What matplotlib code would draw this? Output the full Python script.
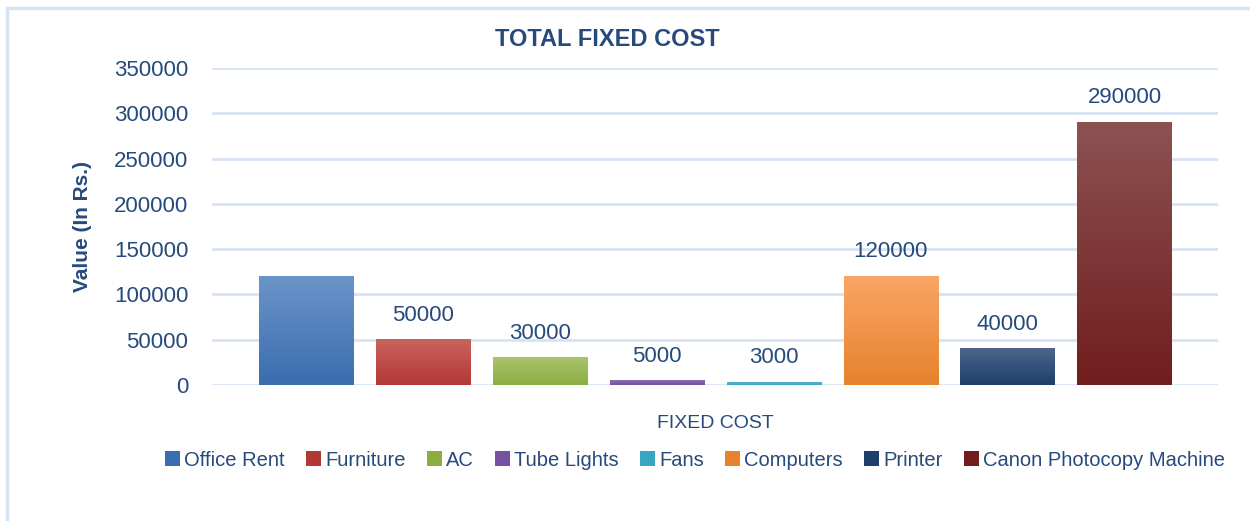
"""Total fixed cost bar chart."""
import matplotlib
matplotlib.use('Agg')
import matplotlib.pyplot as plt
from matplotlib.colors import LinearSegmentedColormap
from matplotlib.patches import Rectangle
import numpy as np

items = ['Office Rent', 'Furniture', 'AC', 'Tube Lights', 'Fans',
         'Computers', 'Printer', 'Canon Photocopy Machine']
values = [120000, 50000, 30000, 5000, 3000, 120000, 40000, 290000]
show_label = [False, True, True, True, True, True, True, True]
# (top, bottom) gradient colours
top_colors = ['#6b94c9', '#c9635f', '#a9c46c', '#8a6cab', '#56b5cc',
              '#f9a567', '#4e6588', '#8c5252']
bottom_colors = ['#3a6daf', '#b23835', '#8bae43', '#7452a0', '#38a6c0',
                 '#e6832c', '#1e3e6b', '#711d1d']

TEXT = '#264a7c'
GRID = '#d6e3f3'
plt.rcParams['font.family'] = ['Liberation Sans', 'DejaVu Sans']

fig = plt.figure(figsize=(12.5, 5.21), dpi=100)
ax = fig.add_axes([212 / 1250, 1 - 385 / 521, (1218 - 212) / 1250, (385 - 68) / 521])

# chart frame
fig.patches.append(Rectangle((7 / 1250, -0.1), 1.2, 1 - 8 / 521 + 0.1,
                             transform=fig.transFigure, fill=False,
                             edgecolor=GRID, linewidth=2.5, zorder=0))

x = np.arange(len(items))
width = 0.81
bars = ax.bar(x, values, width=width, color=bottom_colors, zorder=2)

grad = np.linspace(0, 1, 256).reshape(-1, 1)
for bar, c_top, c_bot in zip(bars, top_colors, bottom_colors):
    cmap = LinearSegmentedColormap.from_list('g', [c_bot, c_top])
    bx, by = bar.get_x(), bar.get_y()
    ax.imshow(grad, cmap=cmap, origin='lower', aspect='auto', zorder=3,
              extent=[bx, bx + bar.get_width(), by, by + bar.get_height()])
    bar.set_facecolor((c_top, 0.0))

for xi, v, show in zip(x, values, show_label):
    if show:
        ax.annotate(f'{v}', (xi, v), textcoords='offset points', xytext=(0, 10),
                    ha='center', va='bottom', fontsize=16, color=TEXT)

ax.set_xlim(-0.81, 7.8)
ax.set_ylim(0, 350000)
ax.set_yticks(np.arange(0, 350001, 50000))
ax.set_xticks([])
ax.yaxis.grid(True, color=GRID, linewidth=2)
ax.set_axisbelow(True)
for s in ax.spines.values():
    s.set_visible(False)
ax.tick_params(axis='y', length=0, pad=17, labelsize=16, labelcolor=TEXT)

fig.text(607 / 1250, 1 - 40 / 521, 'TOTAL FIXED COST', ha='center', va='center',
         fontsize=17, fontweight='bold', color=TEXT)
fig.text(82 / 1250, 1 - 227 / 521, 'Value (In Rs.)', ha='center', va='center',
         rotation=90, fontsize=15, fontweight='bold', color=TEXT)
fig.text(715 / 1250, 1 - 424 / 521, 'FIXED COST', ha='center', va='center',
         fontsize=14, color=TEXT)

handles = [Rectangle((0, 0), 1, 1, facecolor=c) for c in bottom_colors]
leg = fig.legend(handles, items, loc='center', bbox_to_anchor=(695 / 1250, 1 - 460 / 521),
                 ncol=len(items), frameon=False, fontsize=14.5, handlelength=0.75,
                 handleheight=0.75, handletextpad=0.2, columnspacing=1.05)
for t in leg.get_texts():
    t.set_color(TEXT)

plt.savefig('out.png', dpi=100)
